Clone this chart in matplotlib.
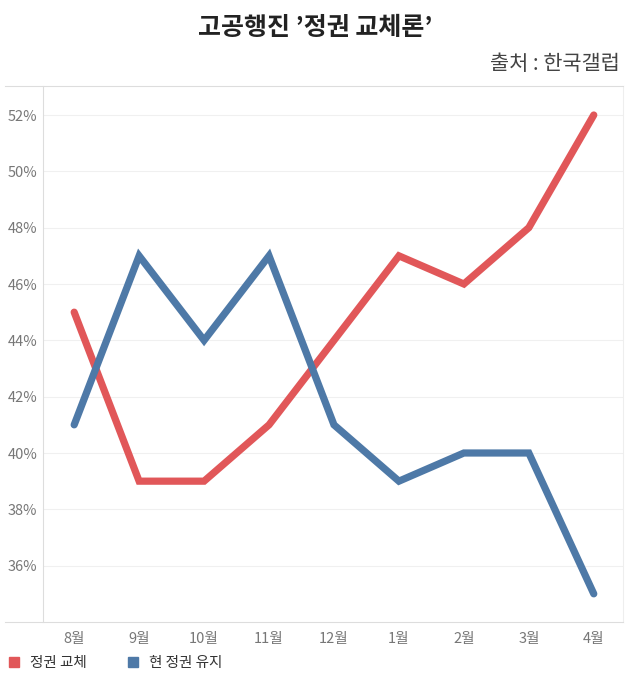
import matplotlib.pyplot as plt
from matplotlib.lines import Line2D
import numpy as np

plt.rcParams['font.family'] = ['Noto Sans CJK KR', 'DejaVu Sans']

MONTHS = ['8월', '9월', '10월', '11월', '12월', '1월', '2월', '3월', '4월']
CHANGE = [45, 39, 39, 41, 44, 47, 46, 48, 52]
KEEP = [41, 47, 44, 47, 41, 39, 40, 40, 35]
Y_TICKS = [36, 38, 40, 42, 44, 46, 48, 50, 52]

RED = '#E15759'
BLUE = '#4E79A7'

fig = plt.figure(figsize=(6.3, 6.79), dpi=100)
W, H = 630, 679
ax = fig.add_axes([43 / W, 1 - 622 / H, (623 - 43) / W, (622 - 86) / H])

x = np.arange(len(MONTHS))
ax.plot(x, CHANGE, color=RED, lw=5.2, solid_capstyle='round', solid_joinstyle='miter', zorder=3)
ax.plot(x, KEEP, color=BLUE, lw=5.2, solid_capstyle='round', solid_joinstyle='miter', zorder=3)

ax.set_xlim(-0.48, 8.45)
ax.set_ylim(34, 53.03)
ax.set_xticks(x)
ax.set_xticklabels(MONTHS)
ax.set_yticks(Y_TICKS)
ax.set_yticklabels([f'{v}%' for v in Y_TICKS])
ax.tick_params(length=0, labelsize=10.5, colors='#777777', pad=7)
ax.tick_params(axis='y', pad=4)
ax.grid(axis='y', color='#f0f0f0', lw=0.8)
ax.set_axisbelow(True)

for s in ['top', 'bottom']:
    ax.spines[s].set_visible(False)
ax.spines['left'].set_color('#dddddd')
ax.spines['right'].set_color('#eeeeee')

# frame lines across the full width
fig.add_artist(Line2D([5 / W, 623 / W], [1 - 86 / H] * 2, color='#dddddd', lw=0.8))
fig.add_artist(Line2D([5 / W, 623 / W], [1 - 622 / H] * 2, color='#dddddd', lw=0.8))

fig.text(0.5, 1 - 28 / H, "고공행진 ’정권 교체론’", ha='center', va='center',
         fontsize=18, fontweight='bold', color='#222222')
fig.text(620 / W, 1 - 64 / H, '출처 : 한국갤럽', ha='right', va='center',
         fontsize=15, color='#444444')

handles = [Line2D([], [], marker='s', ls='', color=RED, markersize=6.5),
           Line2D([], [], marker='s', ls='', color=BLUE, markersize=6.5)]
fig.legend(handles, ['정권 교체', '현 정권 유지'], loc='center left',
           bbox_to_anchor=(-0.022, 1 - 663 / H), ncol=2, frameon=False,
           fontsize=10.5, handletextpad=0.1, columnspacing=2.2, labelcolor='#333333')

fig.savefig('out.png', dpi=100)
